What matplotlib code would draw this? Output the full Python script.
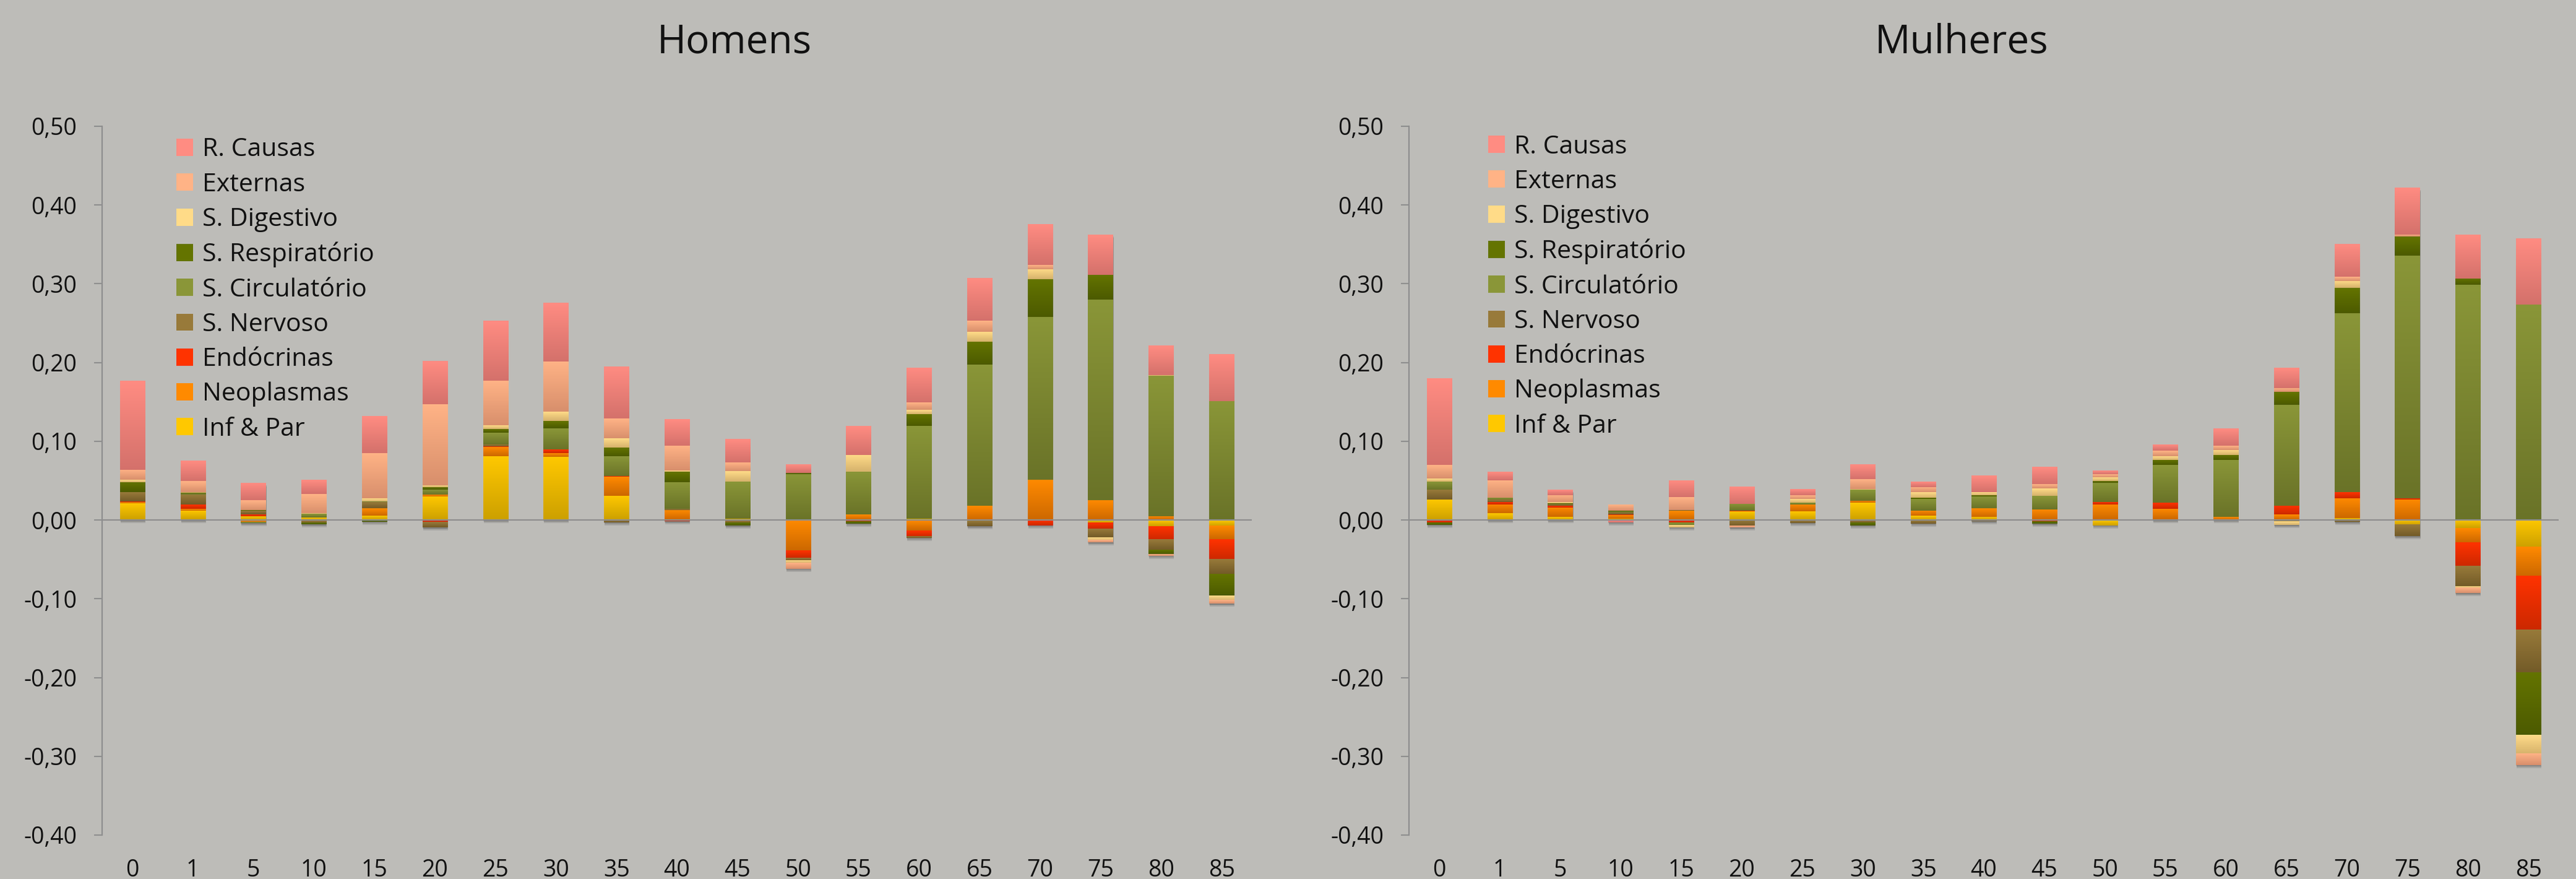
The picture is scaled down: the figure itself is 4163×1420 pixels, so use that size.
import numpy as np
import matplotlib
matplotlib.use("Agg")
import matplotlib.pyplot as plt
from matplotlib.colors import LinearSegmentedColormap
from matplotlib.patches import Patch
import matplotlib.transforms as mtransforms

plt.rcParams['font.family'] = ['Open Sans', 'DejaVu Sans']

# ---------------- data ----------------
ages = ['0', '1', '5', '10', '15', '20', '25', '30', '35', '40', '45',
        '50', '55', '60', '65', '70', '75', '80', '85']
causes = ['Inf & Par', 'Neoplasmas', 'Endócrinas', 'S. Nervoso', 'S. Circulatório',
          'S. Respiratório', 'S. Digestivo', 'Externas', 'R. Causas']
ytick_values = [0.50, 0.40, 0.30, 0.20, 0.10, 0.00, -0.10, -0.20, -0.30, -0.40]
ytick_labels = ['0,50', '0,40', '0,30', '0,20', '0,10', '0,00', '-0,10', '-0,20', '-0,30', '-0,40']
titles = ['Homens', 'Mulheres']

# Homens
h_inf  = [0.0217, 0.012, 0.005, 0.0034, 0.0057, 0.030, 0.0812, 0.0804, 0.0311, 0.0, 0.002,
          0.0, 0.0, 0.002, 0.0, 0.0, -0.0032, -0.0078, -0.0078]
h_neo  = [0.001, 0.0021, -0.003, -0.0013, 0.0094, 0.0021, 0.0117, 0.0047, 0.0238, 0.013, 0.0,
          -0.0384, 0.0068, -0.0133, 0.0178, 0.051, 0.0253, 0.0049, -0.0166]
h_endo = [0.001, 0.0055, 0.0021, 0.0, 0.0, -0.0025, 0.001, 0.0047, 0.0008, -0.0015, -0.001,
          -0.0094, -0.0016, -0.0076, -0.0016, -0.0068, -0.0078, -0.0172, -0.0256]
h_nerv = [0.0115, 0.0125, 0.0047, -0.0025, 0.0076, -0.007, 0.002, 0.0, -0.003, 0.0013, -0.0025,
          -0.0039, 0.0, -0.0016, -0.0063, 0.0, -0.011, -0.013, -0.0182]
h_circ = [0.0, 0.0016, -0.001, 0.0042, 0.0013, 0.0065, 0.0149, 0.0266, 0.0256, 0.034, 0.047,
          0.0585, 0.0548, 0.1175, 0.1794, 0.2068, 0.2545, 0.1786, 0.1513]
h_resp = [0.013, 0.0008, 0.0005, -0.002, -0.002, 0.0029, 0.0047, 0.0094, 0.011, 0.0133, -0.0035,
          0.0016, -0.003, 0.0149, 0.029, 0.0477, 0.0318, -0.0052, -0.0282]
h_dig  = [0.0026, 0.001, 0.0005, 0.0013, 0.0034, 0.0026, 0.0047, 0.0117, 0.0117, 0.001, 0.0133,
          -0.0026, 0.0214, 0.0055, 0.0125, 0.0133, -0.0039, 0.0008, -0.0058]
h_ext  = [0.0128, 0.0141, 0.0123, 0.0243, 0.0574, 0.1026, 0.0564, 0.0642, 0.0251, 0.0319, 0.011,
          -0.0076, 0.0, 0.0094, 0.0141, 0.0055, -0.0026, -0.0023, -0.0042]
h_rc   = [0.1128, 0.0258, 0.0217, 0.0178, 0.047, 0.0546, 0.076, 0.0744, 0.0658, 0.0337, 0.0298,
          0.011, 0.0365, 0.0439, 0.054, 0.0516, 0.0506, 0.037, 0.0591]

# Mulheres
m_inf  = [0.0264, 0.0084, 0.0037, 0.0016, 0.0, 0.0112, 0.0107, 0.0219, 0.0052, 0.0044, -0.001,
          -0.0068, 0.001, 0.0, -0.0015, 0.0026, -0.0063, -0.0105, -0.0346]
m_neo  = [0.0, 0.0117, 0.0125, 0.0044, 0.0117, 0.0, 0.0094, 0.0026, 0.007, 0.011, 0.0138,
          0.0199, 0.0136, 0.0037, 0.0068, 0.0252, 0.0262, -0.0178, -0.0372]
m_endo = [-0.0029, 0.0029, 0.0016, 0.0008, -0.0029, 0.0008, -0.0008, -0.001, -0.0008, 0.0, -0.0008,
          0.0031, 0.0073, 0.0, 0.0115, 0.0073, 0.0016, -0.0304, -0.0676]
m_nerv = [0.0125, 0.0029, 0.0023, 0.0026, 0.0013, -0.0078, -0.003, -0.002, -0.0037, -0.0016, 0.0,
          0.0, 0.0, 0.0, -0.001, -0.0026, -0.0142, -0.0257, -0.054]
m_circ = [0.0102, 0.0021, 0.0008, 0.0016, -0.0037, 0.0089, 0.0018, 0.0138, 0.0149, 0.0144, 0.0172,
          0.0246, 0.0482, 0.0729, 0.128, 0.2276, 0.3078, 0.2989, 0.2737]
m_resp = [-0.003, 0.0, 0.0008, 0.001, 0.0, 0.0, 0.0005, -0.0037, 0.001, 0.0016, -0.003,
          0.002, 0.0063, 0.0063, 0.0163, 0.032, 0.0241, 0.0079, -0.0797]
m_dig  = [0.0039, 0.0, 0.0013, 0.0, -0.0026, 0.0, 0.0044, 0.001, 0.007, 0.0037, 0.0094,
          0.0047, 0.0047, 0.0063, -0.004, 0.0089, 0.0, -0.002, -0.0236]
m_ext  = [0.0172, 0.0227, 0.0089, 0.0073, 0.0159, -0.0016, 0.0047, 0.0123, 0.007, 0.0, 0.0055,
          0.0037, 0.0068, 0.0052, 0.0052, 0.0052, 0.0026, -0.0063, -0.0142]
m_rc   = [0.1094, 0.0107, 0.0063, -0.003, 0.0209, 0.0219, 0.0078, 0.0188, 0.0068, 0.0209, 0.0219,
          0.0042, 0.0073, 0.0215, 0.0257, 0.0409, 0.0593, 0.0556, 0.0834]

homens = [h_inf, h_neo, h_endo, h_nerv, h_circ, h_resp, h_dig, h_ext, h_rc]
mulheres = [m_inf, m_neo, m_endo, m_nerv, m_circ, m_resp, m_dig, m_ext, m_rc]

# gradient colours (top, bottom) per cause
grad_colors = [
    ('#FFC800', '#CCA000'),   # Inf & Par
    ('#FF8A00', '#CC6800'),   # Neoplasmas
    ('#FF3300', '#CC2800'),   # Endócrinas
    ('#987A3A', '#735B28'),   # S. Nervoso
    ('#8A9638', '#6A7328'),   # S. Circulatório
    ('#647400', '#4C5A00'),   # S. Respiratório
    ('#FFDB88', '#D6B26C'),   # S. Digestivo
    ('#FFB386', '#D88F6C'),   # Externas
    ('#FF8C82', '#D4716B'),   # R. Causas
]

BG = '#BDBCB8'
AXC = '#8E8E8E'
W, H = 4163, 1420

fig = plt.figure(figsize=(W / 100, H / 100), dpi=100, facecolor=BG)

axes_px = [(165, 2023), (2277, 4135)]
top_px, bot_px = 204, 1349
legend_px = [(285, 222), (2405, 217)]
title_px = [(1187, 86), (3170, 86)]

grad = np.linspace(0, 1, 128).reshape(-1, 1)


def make_legend_handle(i):
    return Patch(facecolor=grad_colors[i][0], edgecolor='none')


def draw_panel(ax, data, title, leg_xy, title_xy):
    ax.set_facecolor(BG)
    x = np.arange(len(ages))
    width = 0.41
    pos_b = np.zeros(len(ages))
    neg_b = np.zeros(len(ages))
    arrs = [np.array(d, dtype=float) for d in data]
    pos_tot = sum(np.clip(a, 0, None) for a in arrs)
    neg_tot = sum(np.clip(a, None, 0) for a in arrs)
    # soft drop shadow
    for (dx, dy, al) in [(1, -5, 0.10), (1, -3, 0.12), (0, -1.5, 0.12)]:
        tr = mtransforms.offset_copy(ax.transData, fig=fig, x=dx, y=dy, units='dots')
        ax.bar(x, pos_tot - neg_tot, bottom=neg_tot, width=width, color='black',
               alpha=al, linewidth=0, transform=tr, zorder=1)
    for i, vals in enumerate(arrs):
        bottoms = np.where(vals >= 0, pos_b, neg_b)
        bars = ax.bar(x, vals, width=width, bottom=bottoms, color='none',
                      linewidth=0, zorder=2)
        cmap = LinearSegmentedColormap.from_list('g%d' % i, list(grad_colors[i]))
        for p in bars.patches:
            h = p.get_height()
            if h == 0:
                continue
            y0 = min(p.get_y(), p.get_y() + h)
            y1 = max(p.get_y(), p.get_y() + h)
            ax.imshow(grad, extent=[p.get_x(), p.get_x() + p.get_width(), y0, y1],
                      origin='upper', cmap=cmap, aspect='auto', zorder=2,
                      interpolation='bilinear')
        pos_b = pos_b + np.clip(vals, 0, None)
        neg_b = neg_b + np.clip(vals, None, 0)

    ax.set_xlim(-0.5, len(ages) - 0.5)
    ax.set_ylim(-0.40, 0.50)
    ax.axhline(0, color=AXC, lw=1.6, zorder=5)
    for s in ['top', 'right', 'bottom']:
        ax.spines[s].set_visible(False)
    ax.spines['left'].set_color(AXC)
    ax.spines['left'].set_linewidth(1.6)
    ax.set_yticks(ytick_values)
    ax.set_yticklabels(ytick_labels, fontsize=27, color='#111111')
    ax.tick_params(axis='y', length=9.5, width=1.5, color=AXC, pad=20)
    ax.set_xticks(x)
    ax.set_xticklabels(ages, fontsize=27, color='#111111')
    ax.tick_params(axis='x', length=0, pad=27)

    handles = [make_legend_handle(i) for i in range(len(causes))][::-1]
    labels = causes[::-1]
    leg = ax.legend(handles, labels, loc='upper left',
                    bbox_to_anchor=(leg_xy[0] / W, 1 - leg_xy[1] / H),
                    bbox_transform=fig.transFigure, frameon=False, fontsize=29.5,
                    handlelength=0.67, handleheight=0.67, handletextpad=0.35,
                    labelspacing=0.385, borderpad=0, borderaxespad=0)
    for t in leg.get_texts():
        t.set_color('#111111')

    fig.text(title_xy[0] / W, 1 - title_xy[1] / H, title, ha='center', va='baseline',
             fontsize=46, color='#111111')


for k, data in enumerate([homens, mulheres]):
    x0, x1 = axes_px[k]
    ax = fig.add_axes([x0 / W, 1 - bot_px / H, (x1 - x0) / W, (bot_px - top_px) / H])
    draw_panel(ax, data, titles[k], legend_px[k], title_px[k])

fig.savefig('out.png', dpi=100, facecolor=BG)
